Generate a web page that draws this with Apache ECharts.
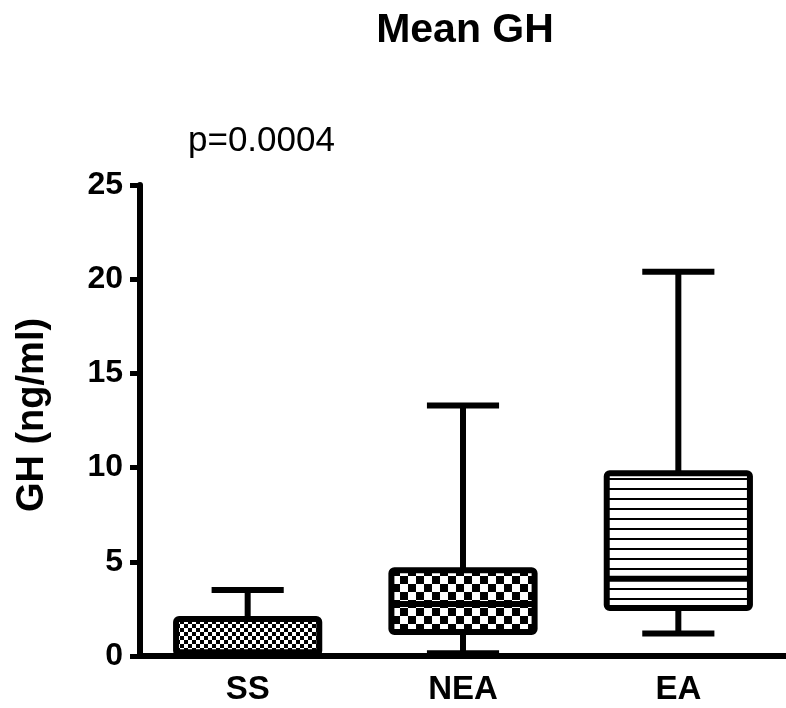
<!DOCTYPE html>
<html>
<head>
<meta charset="utf-8">
<script src="https://cdn.jsdelivr.net/npm/echarts@6/dist/echarts.min.js"></script>
<style>
html,body{margin:0;padding:0;background:#fff;}
#main{width:786px;height:708px;}
</style>
</head>
<body>
<div id="main"></div>
<script>
var categories = ['SS', 'NEA', 'EA'];
var minVals = [0.05, 0.15, 1.2];
var q1Vals = [0.12, 1.27, 2.55];
var medianVals = [0.2, 2.76, 4.1];
var q3Vals = [1.96, 4.55, 9.7];
var maxVals = [3.5, 13.3, 20.4];
var yTicks = [0, 5, 10, 15, 20, 25];

var FONT = '"Liberation Sans", Arial, sans-serif';

// fill patterns: small checks, big checks, horizontal lines
function checker(size) {
  var c = document.createElement('canvas');
  c.width = size * 2; c.height = size * 2;
  var ctx = c.getContext('2d');
  ctx.fillStyle = '#fff';
  ctx.fillRect(0, 0, c.width, c.height);
  ctx.fillStyle = '#000';
  ctx.fillRect(0, 0, size, size);
  ctx.fillRect(size, size, size, size);
  return c;
}
function stripes(gap, thick) {
  var c = document.createElement('canvas');
  c.width = 8; c.height = gap;
  var ctx = c.getContext('2d');
  ctx.fillStyle = '#fff';
  ctx.fillRect(0, 0, c.width, c.height);
  ctx.fillStyle = '#000';
  ctx.fillRect(0, gap - thick, c.width, thick);
  return c;
}
var fills = [
  {image: checker(4), repeat: 'repeat'},
  {image: checker(8), repeat: 'repeat'},
  {image: stripes(10, 2), repeat: 'repeat'}
];

var boxData = [];
for (var i = 0; i < categories.length; i++) {
  boxData.push([i, minVals[i], q1Vals[i], medianVals[i], q3Vals[i], maxVals[i]]);
}

var myChart = echarts.init(document.getElementById('main'));

var option = {
  animation: false,
  backgroundColor: '#fff',
  grid: {left: 140, right: -5, top: 185, bottom: 52, containLabel: false},
  graphic: [
    {type: 'text', x: 465, y: 31, style: {text: 'Mean GH', fill: '#000', align: 'center', verticalAlign: 'middle',
      font: 'bold 41px ' + FONT}},
    {type: 'text', x: 188, y: 141, style: {text: 'p=0.0004', fill: '#000', align: 'left', verticalAlign: 'middle',
      font: '35px ' + FONT}},
    {type: 'text', x: 33, y: 415, rotation: Math.PI / 2, style: {text: 'GH (ng/ml)', fill: '#000',
      align: 'center', verticalAlign: 'middle', font: 'bold 38px ' + FONT}}
  ],
  xAxis: {
    type: 'category',
    data: categories,
    boundaryGap: true,
    axisLine: {lineStyle: {color: '#000', width: 6}},
    axisTick: {alignWithLabel: true, length: 14, lineStyle: {color: '#000', width: 5}},
    axisLabel: {color: '#000', fontSize: 33, fontWeight: 'bold', margin: 17, fontFamily: FONT},
    splitLine: {show: false}
  },
  yAxis: {
    type: 'value',
    min: 0, max: 25, interval: 5,
    axisLine: {show: true, lineStyle: {color: '#000', width: 6}},
    axisTick: {show: true, length: 10, lineStyle: {color: '#000', width: 5}},
    axisLabel: {color: '#000', fontSize: 32, fontWeight: 'bold', margin: 17, fontFamily: FONT,
      formatter: function (v) { return yTicks.indexOf(v) >= 0 ? String(v) : ''; }},
    splitLine: {show: false}
  },
  series: [{
    type: 'custom',
    data: boxData,
    encode: {x: 0, y: [1, 2, 3, 4, 5]},
    z: 1,
    renderItem: function (params, api) {
      var idx = api.value(0);
      var pMin = api.coord([idx, api.value(1)]);
      var pQ1 = api.coord([idx, api.value(2)]);
      var pMed = api.coord([idx, api.value(3)]);
      var pQ3 = api.coord([idx, api.value(4)]);
      var pMax = api.coord([idx, api.value(5)]);
      var band = api.size([1, 0])[0];
      var cx = pQ1[0];
      var bw = band * 0.665;
      var cw = band * 0.335;
      var lw = {stroke: '#000', lineWidth: 6};
      return {
        type: 'group',
        children: [
          {type: 'line', shape: {x1: cx, y1: pMax[1], x2: cx, y2: pQ3[1]}, style: lw},
          {type: 'line', shape: {x1: cx - cw / 2, y1: pMax[1], x2: cx + cw / 2, y2: pMax[1]}, style: lw},
          {type: 'line', shape: {x1: cx, y1: pMin[1], x2: cx, y2: pQ1[1]}, style: lw},
          {type: 'line', shape: {x1: cx - cw / 2, y1: pMin[1], x2: cx + cw / 2, y2: pMin[1]}, style: lw},
          {type: 'rect', shape: {x: cx - bw / 2, y: pQ3[1], width: bw, height: pQ1[1] - pQ3[1], r: 3},
            style: {fill: fills[params.dataIndex], stroke: '#000', lineWidth: 6, lineJoin: 'round'}},
          {type: 'line', shape: {x1: cx - bw / 2, y1: pMed[1], x2: cx + bw / 2, y2: pMed[1]},
            style: {stroke: '#000', lineWidth: 6}}
        ]
      };
    }
  }]
};

myChart.setOption(option);
</script>
</body>
</html>
